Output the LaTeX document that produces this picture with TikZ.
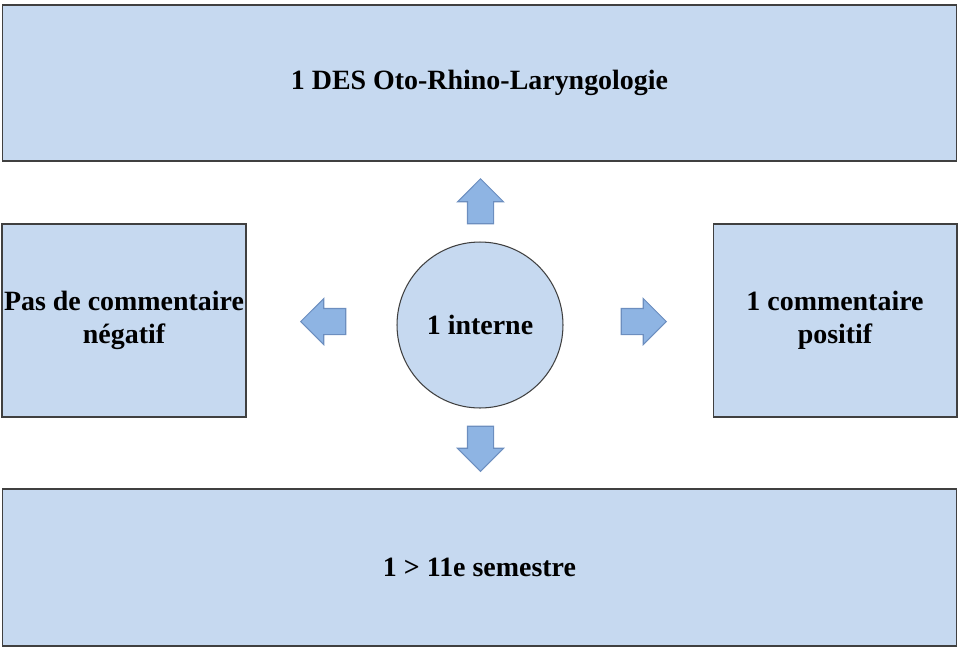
\documentclass[tikz,border=0pt]{standalone}
\usepackage{fontspec}
\setmainfont{Liberation Serif}
\usepackage{xcolor}
\usepackage{tikz}
\usetikzlibrary{shapes.arrows}

\definecolor{boxblue}{HTML}{C6D9F0}
\definecolor{arrowblue}{HTML}{8EB4E3}
\definecolor{arrowline}{HTML}{6C8EBF}
\definecolor{boxline}{HTML}{404040}

\begin{document}
\begin{tikzpicture}[
    x=0.02cm,y=-0.02cm,
    box/.style={draw=boxline,fill=boxblue,rectangle,line width=0.6pt,inner sep=0pt,
                align=center,font=\fontsize{15.9}{19}\selectfont\bfseries},
    ring/.style={draw=boxline,fill=boxblue,circle,line width=0.6pt,
                 minimum size=3.32cm,inner sep=0pt,
                 font=\fontsize{15.9}{19}\selectfont\bfseries},
    blockarrow/.style={single arrow,draw=arrowline,fill=arrowblue,line width=0.6pt,
                       minimum height=0.9cm,inner xsep=0pt,inner ysep=0.25cm,
                       single arrow head extend=0.2cm,anchor=tip}
  ]
  \useasboundingbox (0,0) rectangle (958,650);
  \node[box,minimum width=19.1cm,minimum height=3.12cm] (des) at (479.5,83)
       {1 DES Oto-Rhino-Laryngologie};
  \node[box,minimum width=4.88cm,minimum height=3.86cm] (negatif) at (124,320.5)
       {Pas de commentaire\\n\'egatif};
  \node[box,minimum width=4.88cm,minimum height=3.86cm] (positif) at (835,320.5)
       {1 commentaire\\positif};
  \node[box,minimum width=19.1cm,minimum height=3.14cm] (semestre) at (479.5,567.5)
       {1 > 11e semestre};
  \node[ring] (interne) at (480,325) {1 interne};
  % Block arrows
  \node[blockarrow,rotate=90]  (haut)   at (480.5,178) {};
  \node[blockarrow,rotate=270] (bas)    at (480.5,472) {};
  \node[blockarrow,rotate=180] (gauche) at (300,321.5) {};
  \node[blockarrow]            (droite) at (667,321.5) {};
\end{tikzpicture}
\end{document}
